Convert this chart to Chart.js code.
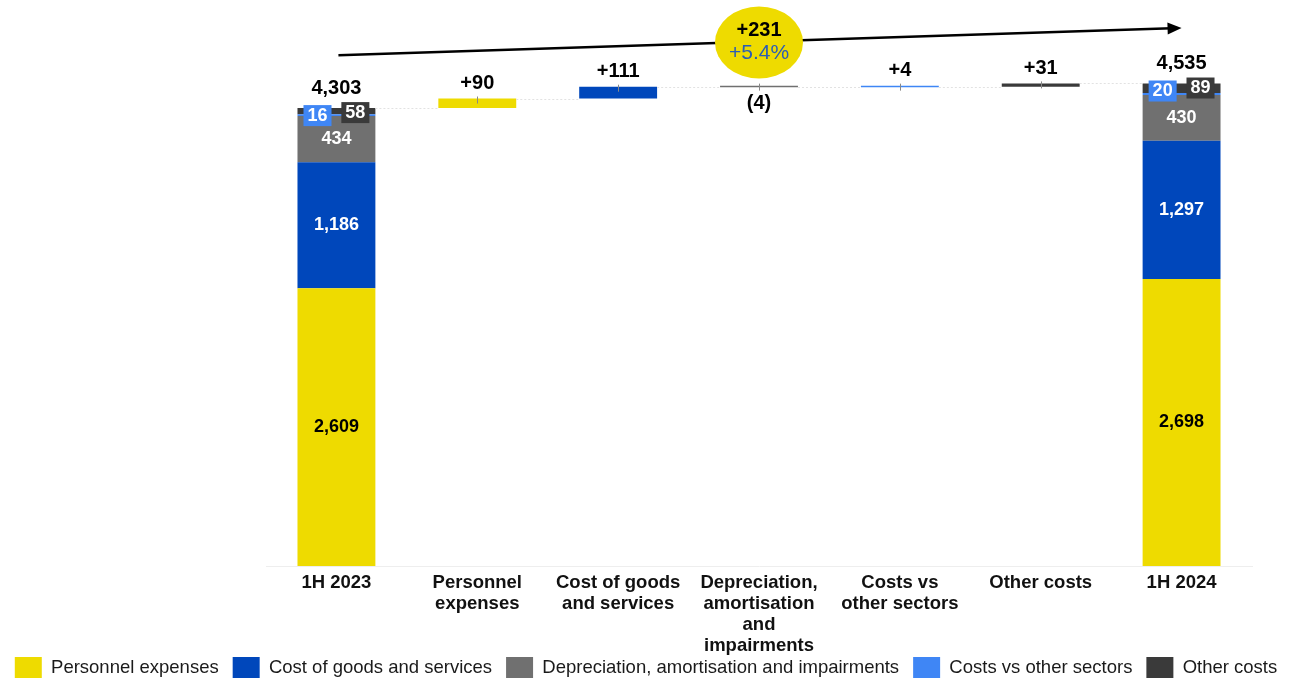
<!DOCTYPE html>
<html>
<head>
<meta charset="utf-8">
<script src="https://cdn.jsdelivr.net/npm/chart.js@4.4.1/dist/chart.umd.min.js"></script>
<style>
  html, body { margin: 0; padding: 0; background: #fff; }
  #wrap { width: 1292px; height: 679px; }
</style>
</head>
<body>
<div id="wrap"><canvas id="costChart" width="1292" height="679"></canvas></div>
<script>
// categories on the x axis
const categories = [
  '1H 2023',
  ['Personnel', 'expenses'],
  ['Cost of goods', 'and services'],
  ['Depreciation,', 'amortisation', 'and', 'impairments'],
  ['Costs vs', 'other sectors'],
  'Other costs',
  '1H 2024'
];
const series = ['Personnel expenses', 'Cost of goods and services', 'Depreciation, amortisation and impairments', 'Costs vs other sectors', 'Other costs'];
const colors = ['#EEDB00', '#0047BB', '#707070', '#3F86F5', '#3A3A3A'];

// values (EUR m)
const h1_2023 = [2609, 1186, 434, 16, 58];
const h1_2024 = [2698, 1297, 430, 20, 89];
const deltas = [90, 111, -4, 4, 31];
const totals = [4303, 4535];
const totalDelta = '+231';
const totalPct = '+5.4%';

// build floating [start, end] bars
const datasets = series.map((name, i) => {
  const data = new Array(categories.length).fill(null);
  const lo23 = h1_2023.slice(0, i).reduce((a, b) => a + b, 0);
  data[0] = [lo23, lo23 + h1_2023[i]];
  const lo24 = h1_2024.slice(0, i).reduce((a, b) => a + b, 0);
  data[6] = [lo24, lo24 + h1_2024[i]];
  const base = totals[0] + deltas.slice(0, i).reduce((a, b) => a + b, 0);
  data[i + 1] = [base, base + deltas[i]];
  return {
    label: name,
    data: data,
    backgroundColor: colors[i],
    borderWidth: 0,
    minBarLength: 1.5,
    categoryPercentage: 1,
    barPercentage: 0.553,
    grouped: false
  };
});

const FONT = "'Liberation Sans', Arial, sans-serif";
const fmt = v => v.toLocaleString('en-US');

const labelPlugin = {
  id: 'waterfallLabels',
  afterDatasetsDraw(chart) {
    const ctx = chart.ctx;
    const y = chart.scales.y;
    const x = chart.scales.x;
    ctx.save();
    ctx.textAlign = 'center';
    ctx.textBaseline = 'middle';

    // dotted connectors between bars
    const levels = [totals[0]];
    deltas.forEach(d => levels.push(levels[levels.length - 1] + d));
    ctx.strokeStyle = '#e2e2e2';
    ctx.lineWidth = 1;
    ctx.setLineDash([2, 2]);
    for (let c = 0; c < 6; c++) {
      const half = 39;
      const yy = Math.round(y.getPixelForValue(levels[c])) + 0.5;
      ctx.beginPath();
      ctx.moveTo(x.getPixelForValue(c) + half, yy);
      ctx.lineTo(x.getPixelForValue(c + 1) - half, yy);
      ctx.stroke();
    }
    ctx.setLineDash([]);

    // segment labels inside the two total bars
    [[0, h1_2023], [6, h1_2024]].forEach(([col, vals]) => {
      const topEl = chart.getDatasetMeta(4).data[col];
      const barTop = topEl.y;
      const left = topEl.x - topEl.width / 2;
      const right = topEl.x + topEl.width / 2;
      ctx.font = 'bold 18px ' + FONT;
      for (let i = 0; i < 3; i++) {
        const el = chart.getDatasetMeta(i).data[col];
        ctx.fillStyle = i === 0 ? '#000' : '#fff';
        ctx.fillText(fmt(vals[i]), el.x, (el.y + el.base) / 2);
      }
      // small boxed labels
      const t3 = fmt(vals[3]);
      const w3 = ctx.measureText(t3).width + 8;
      ctx.fillStyle = colors[3];
      ctx.fillRect(left + 6, barTop - 3, w3, 21);
      ctx.fillStyle = '#fff';
      ctx.fillText(t3, left + 6 + w3 / 2, barTop + 8);
      const t4 = fmt(vals[4]);
      const w4 = ctx.measureText(t4).width + 8;
      ctx.fillStyle = colors[4];
      ctx.fillRect(right - 6 - w4, barTop - 6, w4, 21);
      ctx.fillStyle = '#fff';
      ctx.fillText(t4, right - 6 - w4 / 2, barTop + 5);
      // total on top
      ctx.font = 'bold 20px ' + FONT;
      ctx.fillStyle = '#000';
      ctx.fillText(fmt(col === 0 ? totals[0] : totals[1]), topEl.x, barTop - 20);
    });

    // delta labels
    ctx.font = 'bold 20px ' + FONT;
    ctx.fillStyle = '#000';
    deltas.forEach((d, i) => {
      const el = chart.getDatasetMeta(i).data[i + 1];
      const top = Math.min(el.y, el.base);
      const bottom = Math.max(el.y, el.base);
      // tiny tick mark
      ctx.strokeStyle = '#888';
      ctx.lineWidth = 1;
      ctx.beginPath();
      ctx.moveTo(Math.round(el.x) + 0.5, top - 2);
      ctx.lineTo(Math.round(el.x) + 0.5, top + 5);
      ctx.stroke();
      if (d >= 0) {
        ctx.fillText('+' + d, el.x, top - 15);
      } else {
        ctx.fillText('(' + Math.abs(d) + ')', el.x, bottom + 16);
      }
    });

    // growth arrow with ellipse
    const x0 = x.getPixelForValue(0) + 2;
    const x1 = x.getPixelForValue(6);
    const y0 = y.getPixelForValue(4800);
    const y1 = y.getPixelForValue(5055);
    ctx.strokeStyle = '#000';
    ctx.lineWidth = 2.5;
    ctx.beginPath();
    ctx.moveTo(x0, y0);
    ctx.lineTo(x1 - 10, y1 + 0.3);
    ctx.stroke();
    const ang = Math.atan2(y1 - y0, x1 - x0);
    ctx.fillStyle = '#000';
    ctx.beginPath();
    ctx.moveTo(x1, y1);
    ctx.lineTo(x1 - 14 * Math.cos(ang) + 6 * Math.sin(ang), y1 - 14 * Math.sin(ang) - 6 * Math.cos(ang));
    ctx.lineTo(x1 - 14 * Math.cos(ang) - 6 * Math.sin(ang), y1 - 14 * Math.sin(ang) + 6 * Math.cos(ang));
    ctx.closePath();
    ctx.fill();

    const ex = x.getPixelForValue(3);
    const ey = y.getPixelForValue(4920);
    ctx.fillStyle = colors[0];
    ctx.beginPath();
    ctx.ellipse(ex, ey, 44, 36, 0, 0, Math.PI * 2);
    ctx.fill();
    ctx.font = 'bold 20px ' + FONT;
    ctx.fillStyle = '#000';
    ctx.fillText(totalDelta, ex, ey - 12);
    ctx.font = '21px ' + FONT;
    ctx.fillStyle = '#2A5DB5';
    ctx.fillText(totalPct, ex, ey + 11);
    ctx.restore();
  }
};

new Chart(document.getElementById('costChart').getContext('2d'), {
  type: 'bar',
  data: { labels: categories, datasets: datasets },
  options: {
    responsive: false,
    animation: false,
    layout: { padding: { left: 0, right: 0, top: 2, bottom: -9 } },
    plugins: {
      legend: {
        position: 'bottom',
        labels: {
          boxWidth: 27,
          boxHeight: 21,
          padding: 14,
          color: '#1a1a1a',
          font: { family: FONT, size: 18.5 }
        }
      },
      tooltip: { enabled: false }
    },
    scales: {
      x: {
        stacked: true,
        grid: { display: false, drawTicks: false },
        border: { color: '#eeeeee' },
        ticks: {
          color: '#111',
          maxRotation: 0,
          autoSkip: false,
          padding: 6,
          font: { family: FONT, size: 18.5, weight: 'bold', lineHeight: 1.135 }
        },
        afterFit(s) {
          s.height = 77;
          // let the 4-line label run past the axis box instead of being clipped
          s._computeLabelArea = () => undefined;
        }
      },
      y: {
        position: 'left',
        min: 0,
        max: 5300,
        grid: { display: false },
        border: { display: false },
        ticks: { display: false },
        afterFit(s) { s.width = 266; }
      },
      yRight: {
        position: 'right',
        grid: { display: false },
        border: { display: false },
        ticks: { display: false },
        afterFit(s) { s.width = 40; }
      }
    }
  },
  plugins: [labelPlugin]
});
</script>
</body>
</html>
